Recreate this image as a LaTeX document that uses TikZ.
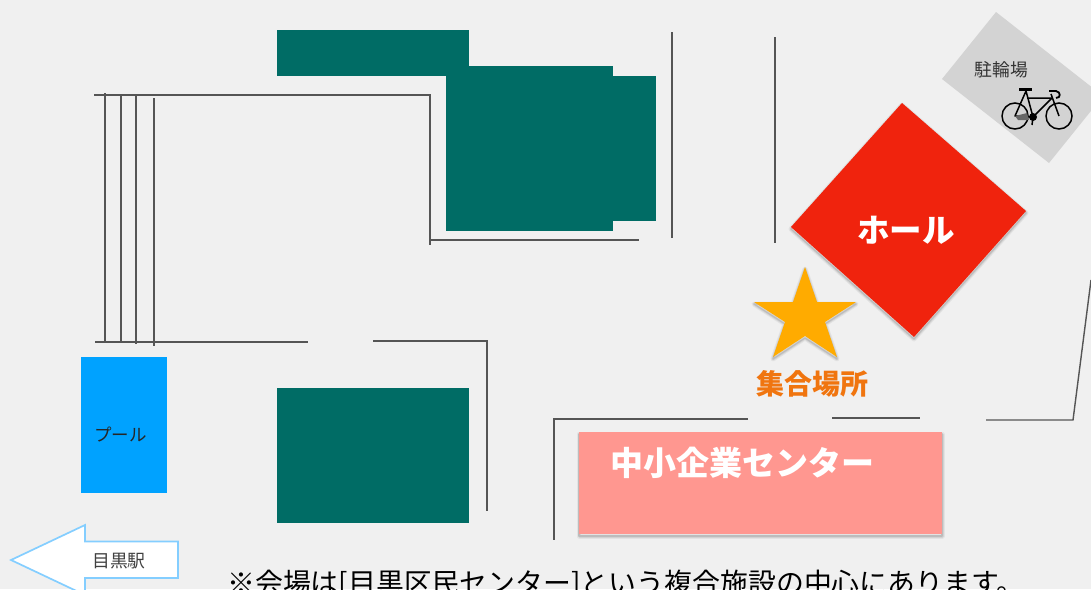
\documentclass[tikz,border=0pt]{standalone}
\usepackage{fontspec}
\setmainfont{Noto Sans CJK JP}
\definecolor{bg}{HTML}{F0F0F0}
\definecolor{green1}{HTML}{006C65}
\definecolor{pool}{HTML}{00A2FF}
\definecolor{hall}{HTML}{F0230D}
\definecolor{starc}{HTML}{FFAB00}
\definecolor{salmon}{HTML}{FF9790}
\definecolor{orangetxt}{HTML}{F0750F}
\definecolor{park}{HTML}{D3D3D3}
\definecolor{arrowc}{HTML}{84CEFF}
\definecolor{wallc}{HTML}{555555}
\tikzset{
 x=1pt,y=-1pt,
 wall/.style={draw=wallc,line width=1.4pt,line cap=butt},
 building/.style={fill=green1},
 softshadow/.style={
   preaction={draw=black,draw opacity=.05,line width=5pt,line join=round,transform canvas={yshift=-2pt}},
   preaction={draw=black,draw opacity=.07,line width=3pt,line join=round,transform canvas={yshift=-2pt}},
   preaction={draw=black,draw opacity=.10,line width=1.2pt,line join=round,transform canvas={yshift=-2pt}}},
 label/.style={inner sep=0pt,anchor=center},
 bike/.style={draw=black,line width=1.5pt}
}
\begin{document}
\begin{tikzpicture}
\useasboundingbox (0,0) rectangle (1091,589);
\clip (0,0) rectangle (1091,589);
\fill[bg] (0,0) rectangle (1091,589);
% buildings
\fill[building] (277,30) rectangle (469,76);
\fill[building] (446,66) rectangle (613,231);
\fill[building] (613,76) rectangle (656,221);
\fill[building] (277,388) rectangle (469,523);
% walls
\draw[wall] (94,95) -- (430,95) -- (430,245);
\draw[wall] (430,240) -- (639,240);
\draw[wall] (105,93) -- (105,343);
\draw[wall] (121,95) -- (121,343);
\draw[wall] (136,95) -- (136,344);
\draw[wall] (154,98) -- (154,346);
\draw[wall] (95,342) -- (308,342);
\draw[wall] (373,341) -- (487,341) -- (487,511);
\draw[wall] (672,32) -- (672,238);
\draw[wall] (775,37) -- (775,243);
\draw[wall] (748,419) -- (554,419) -- (554,540);
\draw[wall] (832,418) -- (920,418);
\draw[wall] (986,420) -- (1073,420) -- (1091,280);
% pool
\fill[pool] (81,357) rectangle (167,493);
\node[label,text=black!85] (poollabel) at (120.5,435) {\fontsize{17.5}{17.5}\selectfont プール};
% arrow
\draw[arrowc,fill=white,line width=1.7pt,line join=miter] (11,560) -- (85,525) -- (85,541.5) -- (178,541.5) -- (178,578) -- (85,578) -- (85,595) -- cycle;
\node[label,text=black!75] (eki) at (119,561) {\fontsize{17.8}{17.8}\selectfont 目黒駅};
% parking
\fill[park] (996,12) -- (1103,96) -- (1049,163) -- (942,79) -- cycle;
\node[label,text=black!80] (parklabel) at (1001.5,70) {\fontsize{17.8}{17.8}\selectfont 駐輪場};
% bicycle
\draw[bike] (1015,116) circle (13);
\draw[bike] (1059,116) circle (13);
\draw[bike,line join=round] (1015,116) -- (1026,91) -- (1033,117) -- cycle;
\draw[bike,line join=round] (1027,98) -- (1052,98) -- (1033,117);
\draw[bike] (1051,94) -- (1059,116);
\draw[bike,line width=2.4pt] (1019,89.5) -- (1032,89.5);
\draw[bike,line width=1.8pt] (1049,91) -- (1056,91) .. controls (1061,92) and (1061,98) .. (1056,98);
\fill[black] (1033,117) circle (4);
\fill[black!60] (1015,116) -- (1027,113) -- (1029,120) -- (1018,120) -- cycle;
\draw[bike] (1033,117) -- (1032,125);
% hall
\fill[hall,softshadow] (902,103) -- (1026,211) -- (914,337) -- (791,227) -- cycle;
\node[label,text=white] (halllabel) at (906,230) {\fontsize{32.5}{32.5}\selectfont\bfseries ホール};
% star
\fill[starc,softshadow] (805,267) -- (817,302) -- (856,302) -- (825,322) -- (837,357) -- (805,336) -- (773,357) -- (785,322) -- (754,302) -- (793,302) -- cycle;
\node[label,text=orangetxt] (meet) at (812,384) {\fontsize{28}{28}\selectfont\bfseries 集合場所};
% centre
\fill[salmon,softshadow] (579,432) rectangle (942,534);
\node[label,text=white] (centre) at (742.5,463) {\fontsize{33}{33}\selectfont\bfseries 中小企業センター};
% note
\node[inner sep=0pt,anchor=base west,text=black] (note) at (227,593) {\fontsize{27.9}{27.9}\selectfont ※会場は[目黒区民センター]という複合施設の中心にあります。};
\end{tikzpicture}
\end{document}
